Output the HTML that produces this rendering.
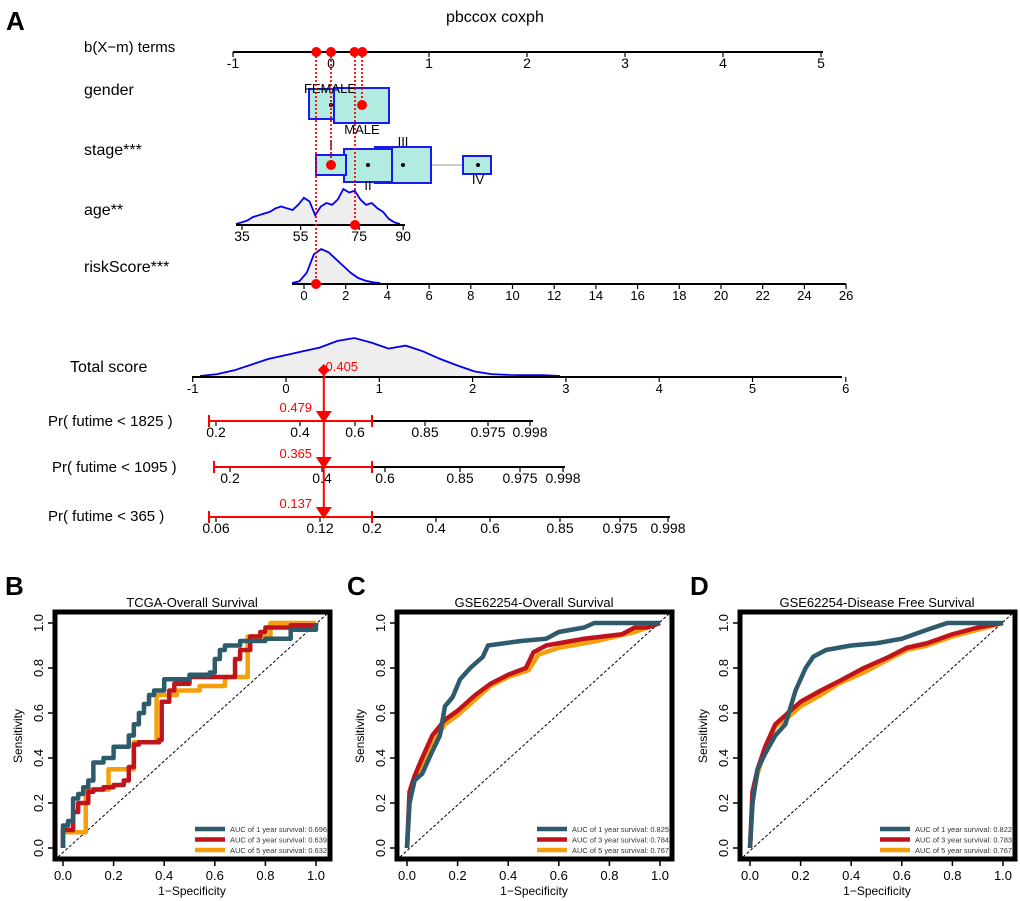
<!DOCTYPE html>
<html><head><meta charset="utf-8"><style>
body{margin:0;background:#fff;}
svg{display:block;font-family:"Liberation Sans",Arial,sans-serif;}
</style></head><body>
<svg id="fig" width="1020" height="901" viewBox="0 0 1020 901">
<text x="6" y="30" font-size="26" font-weight="bold">A</text>
<text x="446" y="22" font-size="16">pbccox coxph</text>
<g id="nomo"></g>
<g id="rocs"></g>
</svg>
<script>
const NS="http://www.w3.org/2000/svg";
function mk(p,tag,at,txt){const e=document.createElementNS(NS,tag);for(const k in at)e.setAttribute(k,at[k]);if(txt!==undefined)e.textContent=txt;p.appendChild(e);return e;}
const nomo=document.getElementById('nomo');
// ---- nomogram data ----
const pointsTicks=[-1,0,1,2,3,4,5];
const pointsMarks=[-0.15,0,0.24,0.32];
const ageTicks=[35,55,75,90];
const ageDensity=[0,0.05,0.1,0.2,0.25,0.3,0.35,0.45,0.5,0.45,0.4,0.55,0.75,0.65,0.25,0.5,0.6,0.55,0.7,1,0.9,0.95,0.7,0.55,0.6,0.45,0.35,0.15,0.05,0];
const riskTicks=[0,2,4,6,8,10,12,14,16,18,20,22,24,26];
const riskDensity=[0,0.05,0.3,0.85,1,0.9,0.7,0.5,0.3,0.15,0.07,0.02,0];
const totalTicks=[-1,0,1,2,3,4,5,6];
const totalDensity=[0,0.05,0.15,0.3,0.45,0.55,0.65,0.75,0.92,1,0.88,0.72,0.8,0.65,0.45,0.28,0.12,0.05,0.03,0.02,0.02,0];
const totalValue=0.405;
const pr1825=[0.2,0.4,0.6,0.85,0.975,0.998], pr1825Pos=[216,300,355,425,488,530];
const pr1095=[0.2,0.4,0.6,0.85,0.975,0.998], pr1095Pos=[230,322,385,460,520,563];
const pr365=[0.06,0.12,0.2,0.4,0.6,0.85,0.975,0.998], pr365Pos=[216,320,372,436,490,560,620,668];
const prVals=["0.479","0.365","0.137"];
const ptX=v=>331+v*98;
function axis(y,x0,x1,ticks,posf,fs,nm){
  const g=mk(nomo,'g',{});
  
  mk(g,'line',{x1:x0,x2:x1,y1:y,y2:y,stroke:'#000','stroke-width':2});
  ticks.forEach((t,i)=>{const x=posf(t,i);mk(g,'line',{x1:x,x2:x,y1:y,y2:y+5,stroke:'#000','stroke-width':1.2});
    mk(g,'text',{x:x,y:y+16,'font-size':fs,'text-anchor':'middle'},String(t));});
}
const labels=[["b(X−m) terms",84,52,15],["gender",84,95,16],["stage***",84,155,16],["age**",84,215,16],["riskScore***",84,272,16],["Total score",70,372,16],["Pr( futime < 1825 )",48,426,15],["Pr( futime < 1095 )",52,472,15],["Pr( futime < 365 )",48,521,15]];
labels.forEach(l=>{const t=mk(nomo,'text',{x:l[1],y:l[2],'font-size':l[3]},l[0]);});
axis(52,233,823,pointsTicks,t=>ptX(t),14,'points-axis');
function dens(arr,x0,x1,y,h,nm){const pts=arr.map((d,i)=>[x0+(x1-x0)*i/(arr.length-1),y-d*h]);
  const d='M'+pts.map(p=>p[0].toFixed(1)+','+p[1].toFixed(1)).join('L');
  mk(nomo,'path',{d:d+'L'+x1+','+y+'L'+x0+','+y+'Z',fill:'#eee'});
  const l=mk(nomo,'path',{d:d,fill:'none',stroke:'#0000ee','stroke-width':1.8});}
// gender
[[309,89,43,30],[334,88,55,35]].forEach(b=>mk(nomo,'rect',{x:b[0],y:b[1],width:b[2],height:b[3],fill:'#b2ebe0',stroke:'#1a1aee','stroke-width':2}));
mk(nomo,'text',{x:330,y:93,'font-size':13,'text-anchor':'middle'},'FEMALE');
mk(nomo,'text',{x:362,y:134,'font-size':13,'text-anchor':'middle'},'MALE');
// stage
mk(nomo,'line',{x1:431,x2:463,y1:165,y2:165,stroke:'#bbb','stroke-width':1.5});
[[375,147,56,36],[344,149,48,33],[316,155,30,20],[463,156,28,18]].forEach(b=>mk(nomo,'rect',{x:b[0],y:b[1],width:b[2],height:b[3],fill:'#b2ebe0',stroke:'#1a1aee','stroke-width':2}));
[[368,165],[403,165],[478,165],[331,105]].forEach(p=>mk(nomo,'circle',{cx:p[0],cy:p[1],r:2,fill:'#000'}));
[['I',331,150],['II',368,190],['III',403,146],['IV',478,184]].forEach(s=>mk(nomo,'text',{x:s[1],y:s[2],'font-size':13,'text-anchor':'middle'},s[0]));
dens(ageDensity,236,400,224,35,'age-density');
axis(225,236,405,ageTicks,t=>242+(t-35)*2.93,14,'age-axis');
dens(riskDensity,292,380,283,34,'risk-density');
axis(284,292,846,riskTicks,t=>304+t*20.85,13,'risk-axis');
dens(totalDensity,200,560,376,38,'total-density');
axis(377,192,842,totalTicks,t=>286+t*93.3,13,'total-axis');
axis(421,209,533,pr1825,(t,i)=>pr1825Pos[i],14,'pr1825-axis');
axis(467,214,565,pr1095,(t,i)=>pr1095Pos[i],14,'pr1095-axis');
axis(517,209,670,pr365,(t,i)=>pr365Pos[i],14,'pr365-axis');
[[316,52,284],[331,52,165],[355,52,225],[362,52,105]].forEach(l=>mk(nomo,'line',{x1:l[0],x2:l[0],y1:l[1],y2:l[2],stroke:'#f00','stroke-width':1.8,'stroke-dasharray':'2,2'}));
pointsMarks.forEach(v=>{const c=mk(nomo,'circle',{cx:ptX(v),cy:52,r:5,fill:'#f00'});});
[[362,105],[331,165],[355,225],[316,284]].forEach(p=>mk(nomo,'circle',{cx:p[0],cy:p[1],r:5,fill:'#f00'}));
const tx=286+totalValue*93.3;
mk(nomo,'line',{x1:tx,x2:tx,y1:372,y2:517,stroke:'#f00','stroke-width':2});
mk(nomo,'path',{d:`M${tx-6},370L${tx},376L${tx+6},370L${tx},364Z`,fill:'#f00'});
mk(nomo,'text',{x:tx+18,y:371,'font-size':13,fill:'#f00','text-anchor':'middle'},totalValue.toFixed(3));
[[421,209,372],[467,214,372],[517,209,372]].forEach((r,i)=>{
  mk(nomo,'line',{x1:r[1],x2:r[2],y1:r[0],y2:r[0],stroke:'#f00','stroke-width':2});
  [r[1],r[2]].forEach(x=>mk(nomo,'line',{x1:x,x2:x,y1:r[0]-6,y2:r[0]+6,stroke:'#f00','stroke-width':2}));
  mk(nomo,'path',{d:`M${tx-8},${r[0]-10}L${tx+8},${r[0]-10}L${tx},${r[0]+2}Z`,fill:'#f00'});
  mk(nomo,'text',{x:tx-28,y:r[0]-9,'font-size':13,fill:'#f00','text-anchor':'middle'},prVals[i]);
});
// ---- ROC data ----
const rocTitles=["TCGA-Overall Survival","GSE62254-Overall Survival","GSE62254-Disease Free Survival"];
const panelLetters=["B","C","D"];
const aucB=["0.696","0.639","0.632"],aucC=["0.825","0.784","0.767"],aucD=["0.822","0.783","0.767"];
const bFpr1=[0,0,0.02,0.04,0.06,0.08,0.1,0.12,0.16,0.2,0.26,0.28,0.3,0.32,0.34,0.36,0.4,0.5,0.58,0.6,0.62,0.64,0.7,0.8,0.9,1];
const bTpr1=[0,0.1,0.12,0.22,0.24,0.27,0.3,0.38,0.4,0.45,0.5,0.55,0.6,0.64,0.68,0.7,0.75,0.77,0.78,0.84,0.88,0.9,0.92,0.93,0.97,1];
const bFpr3=[0,0,0.04,0.06,0.1,0.12,0.16,0.2,0.24,0.26,0.28,0.3,0.38,0.39,0.42,0.44,0.5,0.66,0.68,0.7,0.74,0.78,0.8,0.9,1];
const bTpr3=[0,0.08,0.16,0.2,0.25,0.26,0.27,0.28,0.3,0.36,0.46,0.47,0.48,0.65,0.7,0.73,0.76,0.76,0.84,0.88,0.94,0.96,0.98,0.99,1];
const bFpr5=[0,0,0.08,0.09,0.17,0.18,0.27,0.28,0.36,0.37,0.45,0.54,0.63,0.64,0.72,0.73,0.8,0.82,1];
const bTpr5=[0,0.07,0.07,0.26,0.26,0.35,0.35,0.47,0.47,0.68,0.7,0.72,0.72,0.76,0.76,0.94,0.94,1,1];
const cFpr1=[0,0.01,0.03,0.06,0.1,0.13,0.15,0.18,0.21,0.25,0.3,0.32,0.45,0.55,0.6,0.7,0.74,1];
const cTpr1=[0,0.2,0.3,0.33,0.43,0.5,0.63,0.67,0.75,0.8,0.85,0.9,0.92,0.93,0.96,0.98,1,1];
const cFpr3=[0,0.01,0.03,0.06,0.1,0.15,0.2,0.27,0.33,0.4,0.47,0.5,0.55,0.7,0.85,0.9,0.95,1];
const cTpr3=[0,0.25,0.32,0.4,0.5,0.57,0.61,0.68,0.73,0.77,0.8,0.87,0.9,0.93,0.95,0.98,0.98,1];
const cFpr5=[0,0.01,0.03,0.06,0.1,0.15,0.2,0.27,0.33,0.4,0.48,0.52,0.6,0.75,0.9,1];
const cTpr5=[0,0.22,0.3,0.36,0.46,0.55,0.59,0.66,0.72,0.76,0.79,0.86,0.89,0.92,0.96,1];
const dFpr1=[0,0.01,0.03,0.06,0.1,0.14,0.18,0.22,0.25,0.3,0.4,0.5,0.6,0.7,0.78,1];
const dTpr1=[0,0.2,0.35,0.42,0.5,0.55,0.7,0.8,0.85,0.88,0.9,0.91,0.93,0.97,1,1];
const dFpr3=[0,0.01,0.03,0.06,0.1,0.15,0.2,0.28,0.35,0.45,0.55,0.62,0.7,0.8,0.9,1];
const dTpr3=[0,0.25,0.35,0.45,0.55,0.6,0.65,0.7,0.74,0.8,0.85,0.89,0.91,0.95,0.98,1];
const dFpr5=[0,0.01,0.03,0.06,0.1,0.15,0.2,0.28,0.35,0.45,0.55,0.62,0.7,0.8,0.9,1];
const dTpr5=[0,0.22,0.33,0.44,0.54,0.58,0.63,0.68,0.73,0.78,0.84,0.88,0.9,0.94,0.97,1];
const rocColors=["#2e5b6b","#c0141c","#f5a00a"];
const rocPanels=[{box:55,x0:63,data:[[bFpr1,bTpr1],[bFpr3,bTpr3],[bFpr5,bTpr5]],auc:aucB,step:true},
 {box:397,x0:407,data:[[cFpr1,cTpr1],[cFpr3,cTpr3],[cFpr5,cTpr5]],auc:aucC},
 {box:740,x0:750,data:[[dFpr1,dTpr1],[dFpr3,dTpr3],[dFpr5,dTpr5]],auc:aucD}];
const rocs=document.getElementById('rocs');
rocPanels.forEach((p,pi)=>{
  const g=mk(rocs,'g',{});
  const xs=v=>p.x0+v*253, ys=v=>848-v*225;
  mk(g,'text',{x:p.box-50,y:595,'font-size':26,'font-weight':'bold'},panelLetters[pi]);
  mk(g,'text',{x:p.box+137,y:607,'font-size':13,'text-anchor':'middle'},rocTitles[pi]);
  mk(g,'line',{x1:p.box+3,y1:857,x2:p.box+272,y2:614,stroke:'#000','stroke-width':1,'stroke-dasharray':'3,2'});
  [2,1,0].forEach(si=>{const [fx,ty]=p.data[si];let d='';
    fx.forEach((f,i)=>{const x=xs(f),y=ys(ty[i]);if(i===0)d='M'+x+','+y;else{ if(p.step)d+='L'+x+','+ys(ty[i-1]);d+='L'+x+','+y;}});
    const l=mk(g,'path',{d:d,fill:'none',stroke:rocColors[si],'stroke-width':4.5,'stroke-linejoin':'round'});
    });
  mk(g,'rect',{x:p.box,y:612,width:275,height:247,fill:'none',stroke:'#000','stroke-width':5});
  [0,0.2,0.4,0.6,0.8,1].forEach(t=>{
    mk(g,'line',{x1:xs(t),x2:xs(t),y1:861,y2:866,stroke:'#000','stroke-width':1.5});
    mk(g,'text',{x:xs(t),y:880,'font-size':13,'text-anchor':'middle'},t.toFixed(1));
    mk(g,'line',{x1:p.box-7,x2:p.box-2,y1:ys(t),y2:ys(t),stroke:'#000','stroke-width':1.5});
    mk(g,'text',{x:p.box-12,y:ys(t),'font-size':13,'text-anchor':'middle',transform:`rotate(-90 ${p.box-12} ${ys(t)})`},t.toFixed(1));
  });
  mk(g,'text',{x:p.box+137,y:895,'font-size':12,'text-anchor':'middle'},'1−Specificity');
  mk(g,'text',{x:p.box-33,y:736,'font-size':12,'text-anchor':'middle',transform:`rotate(-90 ${p.box-33} 736)`},'Sensitivity');
  ['1','3','5'].forEach((yr,i)=>{const y=829+i*10.5;
    mk(g,'line',{x1:p.box+140,x2:p.box+170,y1:y,y2:y,stroke:rocColors[i],'stroke-width':4.5});
    const t=mk(g,'text',{x:p.box+175,y:y+3,'font-size':7.5,fill:'#333',textLength:97,lengthAdjust:'spacingAndGlyphs'},`AUC of ${yr} year survival:  ${p.auc[i]}`);
    });
});
</script>
</body></html>
